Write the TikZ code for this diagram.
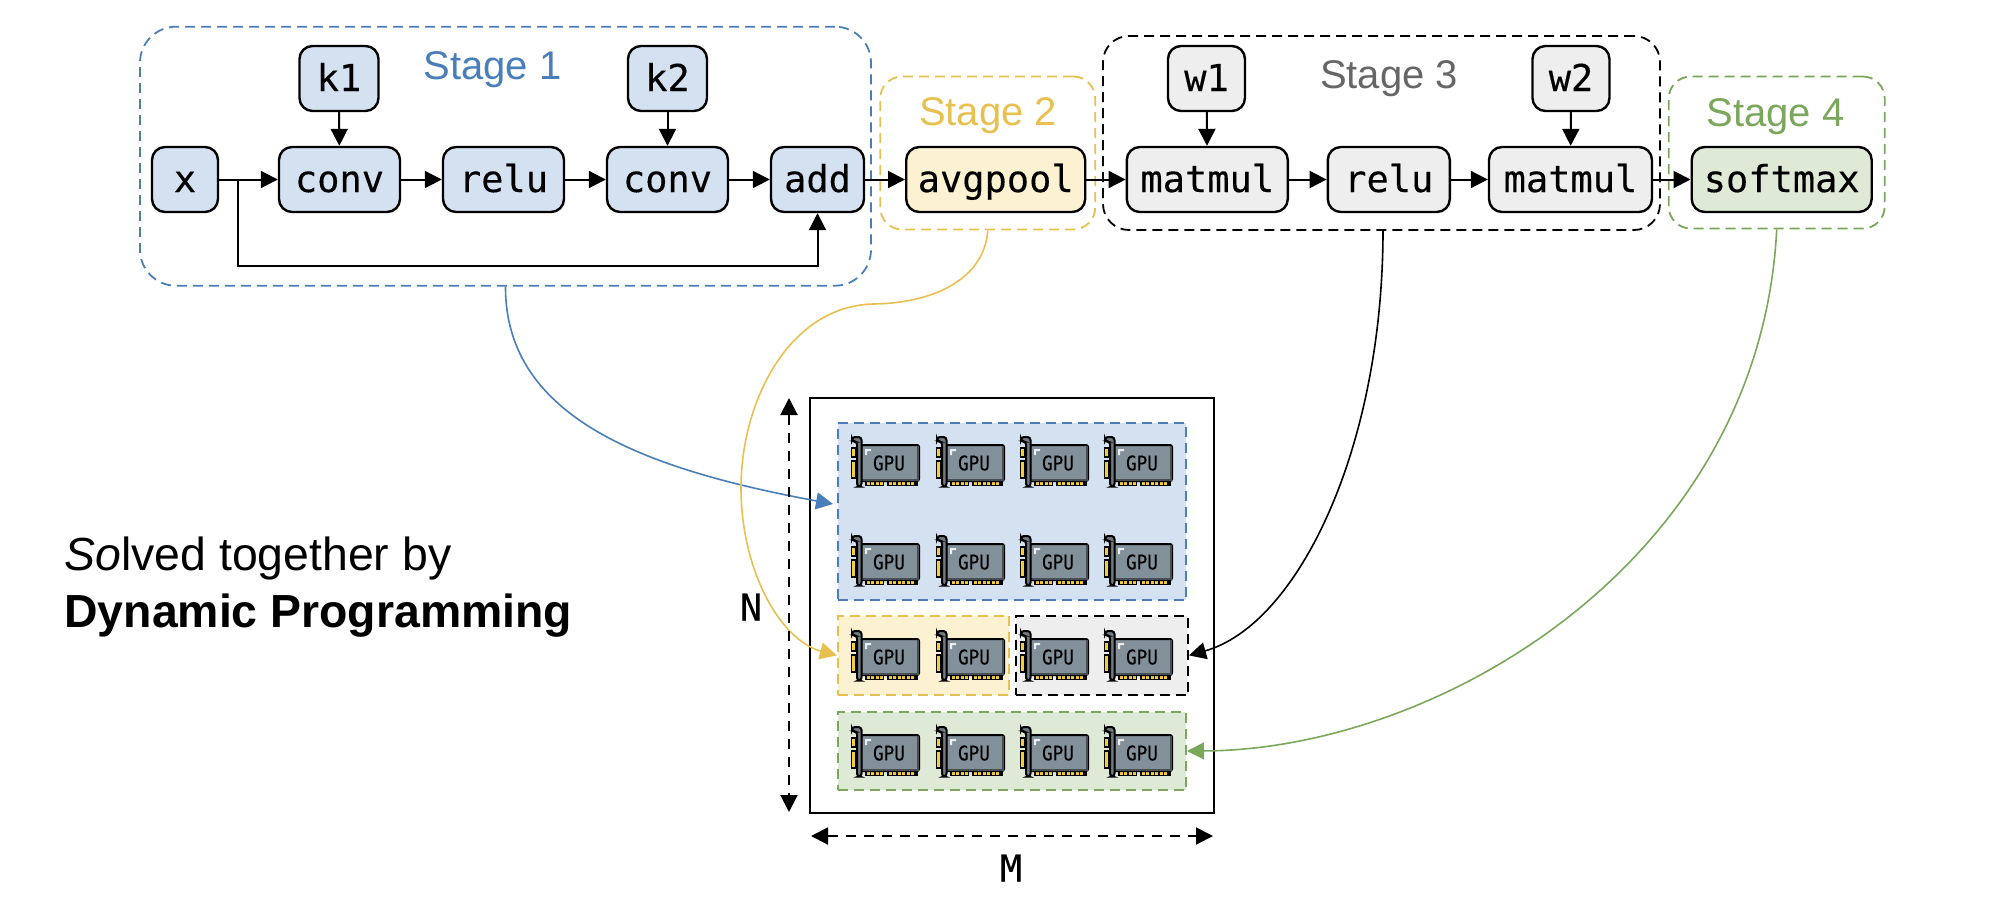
\documentclass[tikz,border=0pt]{standalone}
\usepackage{fontspec}
\setmainfont{Liberation Sans}
\setmonofont[FakeBold=.3]{DejaVu Sans Mono}
\usetikzlibrary{arrows.meta}

\definecolor{blueline}{HTML}{4A7EBB}
\definecolor{bluefill}{HTML}{D4E1F1}
\definecolor{yellowline}{HTML}{E8C04F}
\definecolor{yellowfill}{HTML}{FCF1D0}
\definecolor{grayfill}{HTML}{EEEEEE}
\definecolor{greenline}{HTML}{7BA75C}
\definecolor{greenfill}{HTML}{DEE9D6}
\definecolor{cardgray}{HTML}{82909A}
\definecolor{cardgold}{HTML}{F4CE3C}

\tikzset{
  op/.style={draw, line width=1.2pt, rounded corners=6.5pt, minimum height=32.5pt, inner sep=0pt, text height=14pt, text depth=1.5pt, font=\ttfamily\fontsize{18.5}{20}\selectfont},
  stagebox/.style={draw, dashed, line width=.9pt, dash pattern=on 5pt off 3pt, rounded corners=#1, inner sep=0pt},
  region/.style={draw, line width=.9pt, dash pattern=on 5pt off 3pt, inner sep=0pt},
  stagename/.style={font=\fontsize{20}{20}\selectfont, inner sep=0pt},
  flow/.style={->, line width=1pt},
  link/.style={->, line width=.8pt},
  dim/.style={<->, line width=1pt, dash pattern=on 5pt off 4pt},
  gpucard/.pic={
    \fill[cardgold, draw=black, line width=.7pt] (0.5,12) rectangle (5,21);
    \fill[cardgold, draw=black, line width=.7pt] (0.5,25) rectangle (5,42);
    \fill[black] (14,44) rectangle (33,50);
    \fill[black] (36,44) rectangle (67,50);
    \foreach \i in {15.5,20,24.5,29,37.5,42,46.5,51,55.5,60}
      \fill[cardgold] (\i,45.6) rectangle +(3.4,3);
    \draw[fill=cardgray, line width=1pt, rounded corners=1pt] (10,9) rectangle (68,45);
    \fill[black!45!cardgray] (65.5,10) rectangle (67.5,44);
    \fill[black!45!cardgray] (11,42.5) rectangle (67.5,44.5);
    \fill[white!85!cardgray] (14,13) -- (20,13) -- (20,15) -- (16,15) -- (16,19) -- (14,19) -- cycle;
    \draw[fill=black!25!cardgray!90!white, line width=1pt, rounded corners=1.5pt] (1,1) -- (10.5,1) -- (10.5,50.5) -- (6,50.5) -- (6,5.5) -- (1,5.5) -- cycle;
    \node[inner sep=0pt, xscale=.88, font=\ttfamily\fontsize{10}{10}\selectfont] (-label) at (38,27) {GPU};
  }
}

\begin{document}

\begin{tikzpicture}[x=.5pt, y=-.5pt, >={Triangle[length=8.5pt,width=8.5pt]}]

\useasboundingbox (0,0) rectangle (2014,896);

% stage frames
\node[stagebox=18pt, blueline, minimum width=365.5pt, minimum height=129.5pt] (stageone) at (505.5,156.2) {};
\node[stagebox=11pt, yellowline, minimum width=107.5pt, minimum height=76.5pt] (stagetwo) at (987.7,153) {};
\node[stagebox=13pt, minimum width=278.5pt, minimum height=97pt] (stagethree) at (1381.5,133) {};
\node[stagebox=11pt, greenline, minimum width=108pt, minimum height=76pt] (stagefour) at (1776.7,152.5) {};

\node[stagename, blueline] (nameone) at (492.5,70) {Stage 1};
\node[stagename, yellowline] (nametwo) at (988,116) {Stage 2};
\node[stagename, black!60] (namethree) at (1389,79) {Stage 3};
\node[stagename, greenline] (namefour) at (1775.5,117) {Stage 4};

% stage 1
\node[op, fill=bluefill, minimum width=33pt] (x) at (185,179.5) {x};
\node[op, fill=bluefill, minimum width=60.5pt] (convone) at (339.5,179.5) {conv};
\node[op, fill=bluefill, minimum width=60.5pt] (reluone) at (503.5,179.5) {relu};
\node[op, fill=bluefill, minimum width=60.5pt] (convtwo) at (667.5,179.5) {conv};
\node[op, fill=bluefill, minimum width=46.5pt] (add) at (817.5,179.5) {add};
\node[op, fill=bluefill, minimum width=39.5pt] (kone) at (339,78.5) {k1};
\node[op, fill=bluefill, minimum width=39.5pt] (ktwo) at (667.5,78.5) {k2};

% stage 2
\node[op, fill=yellowfill, minimum width=89.5pt] (avgpool) at (995.7,179.5) {avgpool};

% stage 3
\node[op, fill=grayfill, minimum width=80.5pt] (matone) at (1207.3,179.5) {matmul};
\node[op, fill=grayfill, minimum width=61pt] (relutwo) at (1388.8,179.5) {relu};
\node[op, fill=grayfill, minimum width=81.5pt] (mattwo) at (1570.5,179.5) {matmul};
\node[op, fill=grayfill, minimum width=38.5pt] (wone) at (1206.5,78.5) {w1};
\node[op, fill=grayfill, minimum width=38.5pt] (wtwo) at (1571,78.5) {w2};

% stage 4
\node[op, fill=greenfill, minimum width=90pt] (softmax) at (1781.7,179.5) {softmax};

\draw[flow] (x) -- (convone);
\draw[flow] (convone) -- (reluone);
\draw[flow] (reluone) -- (convtwo);
\draw[flow] (convtwo) -- (add);
\draw[flow] (add) -- (avgpool);
\draw[flow] (avgpool) -- (matone);
\draw[flow] (matone) -- (relutwo);
\draw[flow] (relutwo) -- (mattwo);
\draw[flow] (mattwo) -- (softmax);
\draw[flow] (kone) -- (convone);
\draw[flow] (ktwo) -- (convtwo);
\draw[flow] (wone) -- (matone);
\draw[flow] (wtwo) -- (mattwo);
\coordinate (branch) at (237.5,179.5);
\draw[flow] (branch) -- (237.5,265.5) -| (add.south);

% cluster
\node[draw, line width=1.2pt, minimum width=202pt, minimum height=207.5pt, inner sep=0pt] (cluster) at (1012,605.2) {};
\node[region, blueline, fill=bluefill, minimum width=174.2pt, minimum height=88.7pt] (regionblue) at (1011.9,511.4) {};
\node[region, yellowline, fill=yellowfill, minimum width=85.6pt, minimum height=39.7pt] (regionyellow) at (923.4,655.4) {};
\node[region, fill=grayfill, minimum width=86.2pt, minimum height=39.7pt] (regiongray) at (1101.9,655.4) {};
\node[region, greenline, fill=greenfill, minimum width=174.2pt, minimum height=39.2pt] (regiongreen) at (1011.9,751) {};

\foreach \r/\y in {a/436, b/535, c/630, d/726}
  \foreach \c/\x in {1/851, 2/936, 3/1020, 4/1104}
    \pic (gpu\r\c) at (\x,\y) {gpucard};

% stages to devices
\coordinate (tipblue) at (833,504);
\coordinate (startblack) at (1383,230);
\draw[link, blueline] (stageone.south) .. controls (505,420) and (650,470) .. (tipblue);
\draw[link, yellowline] (stagetwo.south) .. controls (985,275) and (940,303) .. (873,304) .. controls (790,306) and (741,400) .. (741,488) .. controls (741,570) and (780,640) .. (regionyellow.west);
\draw[link] (startblack) .. controls (1383,450) and (1297,625) .. (regiongray.east);
\draw[link, greenline] (stagefour.south) .. controls (1760,560) and (1440,750) .. (regiongreen.east);

% dimensions
\coordinate (nup) at (789,398);
\coordinate (ndown) at (789,812);
\coordinate (mleft) at (811,836);
\coordinate (mright) at (1213,836);
\draw[dim] (nup) -- (ndown);
\draw[dim] (mleft) -- (mright);
\node[inner sep=0pt, font=\ttfamily\fontsize{18.5}{20}\selectfont] (nlabel) at (751,607) {N};
\node[inner sep=0pt, font=\ttfamily\fontsize{18.5}{20}\selectfont] (mlabel) at (1011,868) {M};

\node[anchor=base west, inner sep=0pt, font=\fontsize{23.2}{24}\selectfont] (solved) at (64,570.5) {\textit{So}lved together by};
\node[anchor=base west, inner sep=0pt, font=\bfseries\fontsize{23.2}{24}\selectfont] (dp) at (64,627) {Dynamic Programming};

\end{tikzpicture}

\end{document}
